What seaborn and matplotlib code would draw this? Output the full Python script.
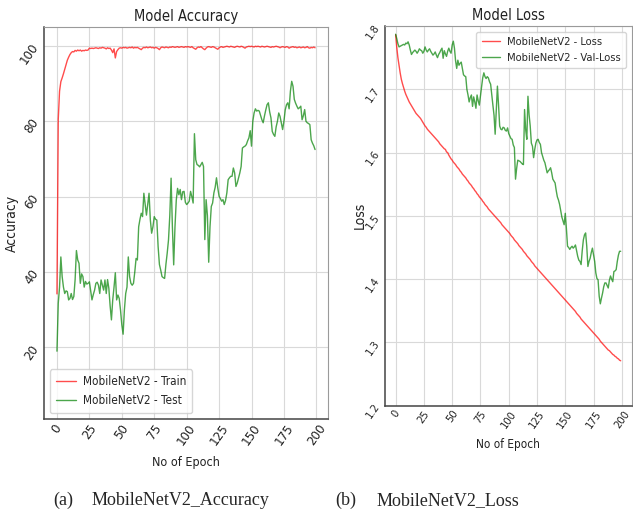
import matplotlib
matplotlib.use("Agg")
import matplotlib.pyplot as plt
import numpy as np
import pandas as pd
import seaborn as sns

# ---- training history of MobileNetV2 (200 epochs) ----
epochs = list(range(200))

train_acc = [
    34.2, 80.5, 88.0, 90.5, 91.5, 92.6, 93.8, 95.0, 96.2, 97.0,
    97.7, 98.2, 98.5, 98.4, 98.8, 98.6, 98.9, 98.7, 98.9, 98.6,
    98.8, 98.7, 98.9, 98.8, 98.9, 99.4, 99.3, 99.4, 99.3, 99.4,
    99.5, 99.4, 99.3, 99.5, 99.4, 99.6, 99.5, 99.4, 99.2, 99.5,
    99.3, 99.4, 98.9, 98.2, 99.2, 96.8, 98.5, 99.0, 99.4, 99.5,
    99.4, 99.6, 99.5, 99.6, 99.4, 99.5, 99.6, 99.5, 99.7, 99.4,
    99.6, 99.5, 99.6, 99.4, 99.2, 99.0, 99.4, 99.6, 99.5, 99.7,
    99.5, 99.6, 99.7, 99.5, 99.6, 99.4, 99.6, 99.5, 99.3, 99.0,
    99.5, 99.7, 99.6, 99.5, 99.7, 99.6, 99.5, 99.7, 99.6, 99.8,
    99.7, 99.6, 99.7, 99.8, 99.6, 99.7, 99.8, 99.7, 99.6, 99.8,
    99.7, 99.8, 99.7, 99.6, 99.8, 99.5, 99.3, 99.1, 99.5, 99.7,
    99.6, 99.8, 99.5, 99.2, 99.0, 99.4, 99.7, 99.8, 99.7, 99.6,
    99.8, 99.7, 99.5, 99.3, 99.1, 99.5, 99.7, 99.8, 99.6, 99.7,
    99.8, 99.9, 99.8, 99.7, 99.9, 99.8, 99.7, 99.6, 99.8, 99.9,
    99.8, 99.7, 99.9, 99.8, 99.6, 99.4, 99.7, 99.8, 99.9, 99.8,
    99.9, 99.8, 99.7, 99.9, 99.8, 99.9, 99.8, 99.7, 99.9, 99.8,
    99.7, 99.8, 99.9, 99.8, 99.7, 99.6, 99.8, 99.7, 99.8, 99.9,
    99.8, 99.7, 99.5, 99.7, 99.8, 99.7, 99.6, 99.8, 99.7, 99.4,
    99.6, 99.7, 99.8, 99.6, 99.7, 99.5, 99.6, 99.7, 99.5, 99.6,
    99.7, 99.5, 99.6, 99.8, 99.5, 99.4, 99.6, 99.5, 99.7, 99.5,
]

test_acc = [
    19.0, 31.7, 36.0, 44.0, 38.8, 36.0, 34.3, 35.0, 34.8, 32.6,
    33.0, 34.3, 32.7, 33.5, 38.0, 45.7, 43.2, 42.3, 37.0, 39.5,
    38.8, 36.0, 37.5, 36.8, 37.0, 37.4, 35.0, 32.6, 34.0, 35.2,
    37.0, 37.3, 36.5, 34.3, 37.9, 36.5, 35.2, 37.9, 34.3, 38.0,
    35.7, 31.0, 27.3, 32.6, 36.0, 39.8, 32.6, 33.9, 33.0, 29.9,
    26.0, 23.5, 30.0, 34.3, 36.0, 44.0, 38.8, 37.0, 36.5, 37.0,
    40.0, 43.6, 43.2, 52.0, 54.0, 55.6, 54.7, 60.9, 58.0, 55.1,
    58.0, 60.9, 53.8, 50.3, 52.0, 54.7, 54.0, 53.8, 46.7, 42.0,
    40.5, 38.8, 38.5, 38.3, 42.0, 45.0, 48.5, 55.0, 64.9, 52.0,
    41.9, 52.0, 59.1, 62.2, 60.5, 61.9, 59.2, 61.3, 61.4, 58.5,
    57.9, 58.3, 58.8, 61.4, 60.0, 58.3, 76.7, 69.8, 68.5, 68.3,
    67.9, 68.5, 69.1, 68.0, 48.6, 59.2, 55.0, 42.6, 52.0, 57.4,
    58.3, 61.0, 62.5, 65.0, 62.3, 60.1, 59.5, 58.8, 59.2, 57.9,
    59.0, 61.0, 64.5, 65.0, 65.4, 65.4, 67.6, 66.3, 62.7, 63.6,
    65.0, 66.3, 68.0, 72.9, 73.2, 73.4, 73.8, 74.8, 75.6, 77.5,
    73.4, 80.0, 82.2, 83.3, 82.7, 82.9, 82.7, 81.5, 80.4, 79.6,
    81.4, 83.0, 84.4, 84.9, 82.5, 80.9, 77.3, 76.5, 76.0, 78.5,
    80.0, 82.2, 81.3, 79.5, 77.8, 80.0, 83.0, 84.4, 84.9, 83.3,
    88.0, 90.6, 89.3, 85.8, 84.8, 84.0, 83.3, 83.6, 84.0, 80.4,
    81.5, 83.1, 80.0, 79.6, 79.4, 79.1, 75.1, 74.2, 73.5, 72.5,
]

train_loss = [
    1.786, 1.766, 1.750, 1.738, 1.726, 1.716, 1.709, 1.703, 1.697, 1.692,
    1.688, 1.684, 1.680, 1.677, 1.674, 1.671, 1.668, 1.665, 1.662, 1.660,
    1.658, 1.656, 1.654, 1.651, 1.648, 1.645, 1.642, 1.640, 1.637, 1.635,
    1.633, 1.631, 1.629, 1.627, 1.625, 1.623, 1.621, 1.619, 1.617, 1.614,
    1.612, 1.610, 1.608, 1.606, 1.605, 1.601, 1.600, 1.596, 1.593, 1.590,
    1.588, 1.585, 1.583, 1.581, 1.578, 1.576, 1.574, 1.571, 1.569, 1.566,
    1.564, 1.562, 1.560, 1.557, 1.555, 1.552, 1.550, 1.548, 1.545, 1.543,
    1.540, 1.538, 1.535, 1.533, 1.530, 1.528, 1.526, 1.523, 1.521, 1.518,
    1.516, 1.514, 1.511, 1.509, 1.507, 1.505, 1.503, 1.501, 1.499, 1.497,
    1.495, 1.493, 1.491, 1.489, 1.486, 1.484, 1.482, 1.480, 1.478, 1.476,
    1.474, 1.472, 1.469, 1.467, 1.465, 1.462, 1.460, 1.458, 1.456, 1.453,
    1.451, 1.449, 1.447, 1.444, 1.442, 1.440, 1.437, 1.435, 1.433, 1.431,
    1.428, 1.426, 1.424, 1.421, 1.419, 1.417, 1.415, 1.413, 1.411, 1.409,
    1.407, 1.405, 1.403, 1.401, 1.399, 1.397, 1.395, 1.393, 1.391, 1.389,
    1.387, 1.385, 1.383, 1.381, 1.379, 1.377, 1.375, 1.373, 1.371, 1.369,
    1.367, 1.365, 1.363, 1.361, 1.359, 1.357, 1.355, 1.353, 1.351, 1.349,
    1.346, 1.344, 1.342, 1.340, 1.337, 1.335, 1.333, 1.331, 1.329, 1.327,
    1.325, 1.323, 1.321, 1.319, 1.317, 1.315, 1.313, 1.311, 1.309, 1.307,
    1.305, 1.302, 1.300, 1.298, 1.296, 1.294, 1.292, 1.290, 1.288, 1.287,
    1.285, 1.283, 1.281, 1.280, 1.278, 1.277, 1.275, 1.274, 1.272, 1.271,
]

val_loss = [
    1.787, 1.780, 1.772, 1.767, 1.768, 1.769, 1.770, 1.771, 1.770, 1.773,
    1.772, 1.775, 1.770, 1.762, 1.755, 1.758, 1.760, 1.762, 1.760, 1.757,
    1.760, 1.764, 1.762, 1.761, 1.757, 1.760, 1.767, 1.762, 1.759, 1.762,
    1.764, 1.760, 1.757, 1.754, 1.756, 1.759, 1.754, 1.750, 1.755, 1.758,
    1.762, 1.765, 1.749, 1.761, 1.756, 1.752, 1.760, 1.765, 1.760, 1.757,
    1.770, 1.776, 1.765, 1.745, 1.733, 1.746, 1.738, 1.741, 1.743, 1.733,
    1.723, 1.721, 1.720, 1.700, 1.691, 1.680, 1.687, 1.691, 1.673, 1.688,
    1.680, 1.670, 1.691, 1.682, 1.675, 1.690, 1.704, 1.718, 1.726, 1.720,
    1.717, 1.720, 1.718, 1.712, 1.708, 1.691, 1.675, 1.659, 1.629, 1.668,
    1.705, 1.675, 1.642, 1.637, 1.636, 1.640, 1.639, 1.635, 1.634, 1.639,
    1.630, 1.626, 1.622, 1.621, 1.612, 1.608, 1.558, 1.575, 1.588, 1.587,
    1.586, 1.584, 1.582, 1.581, 1.668, 1.636, 1.621, 1.689, 1.660, 1.642,
    1.615, 1.610, 1.592, 1.605, 1.615, 1.620, 1.621, 1.616, 1.613, 1.600,
    1.594, 1.588, 1.584, 1.576, 1.568, 1.571, 1.573, 1.576, 1.568, 1.558,
    1.555, 1.552, 1.540, 1.530, 1.525, 1.518, 1.508, 1.498, 1.492, 1.486,
    1.504, 1.480, 1.452, 1.450, 1.447, 1.450, 1.452, 1.449, 1.451, 1.454,
    1.445, 1.436, 1.430, 1.428, 1.423, 1.445, 1.462, 1.470, 1.473, 1.452,
    1.420, 1.428, 1.433, 1.442, 1.449, 1.438, 1.428, 1.410, 1.401, 1.399,
    1.373, 1.361, 1.370, 1.378, 1.388, 1.394, 1.394, 1.390, 1.386, 1.398,
    1.405, 1.400, 1.396, 1.412, 1.413, 1.415, 1.428, 1.438, 1.444, 1.444,
]

acc_yticks = [20, 40, 60, 80, 100]
loss_yticks = [1.2, 1.3, 1.4, 1.5, 1.6, 1.7, 1.8]
epoch_ticks = [0, 25, 50, 75, 100, 125, 150, 175, 200]

acc_df = pd.DataFrame({"epoch": epochs, "train": train_acc, "test": test_acc})
loss_df = pd.DataFrame({"epoch": epochs, "loss": train_loss, "val": val_loss})

sns.set_style("whitegrid", {"grid.color": "#d9d9d9", "axes.edgecolor": "#555555"})
plt.rcParams["font.family"] = ["DejaVu Sans"]
plt.rcParams["font.stretch"] = "condensed"

fig = plt.figure(figsize=(6.33, 5.12), dpi=100)
ax1 = fig.add_axes([0.0695, 0.1816, 0.4487, 0.7656])
ax2 = fig.add_axes([0.6077, 0.2076, 0.3907, 0.7416])

RED, GREEN = "red", "green"

sns.lineplot(data=acc_df, x="epoch", y="train", ax=ax1, color=RED, alpha=0.7,
             linewidth=1, label="MobileNetV2 - Train")
sns.lineplot(data=acc_df, x="epoch", y="test", ax=ax1, color=GREEN, alpha=0.7,
             linewidth=1, label="MobileNetV2 - Test")
sns.lineplot(data=loss_df, x="epoch", y="loss", ax=ax2, color=RED, alpha=0.7,
             linewidth=1, label="MobileNetV2 - Loss")
sns.lineplot(data=loss_df, x="epoch", y="val", ax=ax2, color=GREEN, alpha=0.7,
             linewidth=1, label="MobileNetV2 - Val-Loss")

ax1.set_xlim(-10, 209)
ax1.set_ylim(1, 105)
ax1.set_yticks(acc_yticks)
ax2.set_xlim(-9.7, 209)
ax2.set_ylim(1.2, 1.8)
ax2.set_yticks(loss_yticks)

# the loss panel is drawn a little narrower, so its text is set smaller
panels = [
    (ax1, "Model Accuracy", "Accuracy", 10.5, 9.0, 9.5, 8.5),
    (ax2, "Model Loss", "Loss", 10.5, 8.5, 8.0, 8.0),
]
for ax, title, ylab, tsize, xlsize, ticksize, legsize in panels:
    ax.set_xticks(epoch_ticks)
    ax.set_title(title, fontsize=tsize, pad=4, color="#222222")
    ax.set_xlabel("No of Epoch", fontsize=xlsize, color="#222222", labelpad=6)
    ax.set_ylabel(ylab, fontsize=10, color="#222222")
    ax.tick_params(axis="both", labelsize=ticksize, colors="#222222", length=0, pad=2)
    for lab in ax.get_xticklabels() + ax.get_yticklabels():
        lab.set_rotation(55)
    for side in ("top", "right"):
        ax.spines[side].set_color("#9a9a9a")
    for side in ("left", "bottom"):
        ax.spines[side].set_color("#444444")
        ax.spines[side].set_linewidth(1.1)
    ax.legend(loc="lower left" if ax is ax1 else "upper right", fontsize=legsize,
              frameon=True, borderaxespad=0.5, handlelength=1.7, handletextpad=0.6,
              borderpad=0.5, labelspacing=0.5)

ax1.yaxis.set_label_coords(-0.088, 0.5)
ax2.yaxis.set_label_coords(-0.072, 0.5)

serif = ["Liberation Serif", "DejaVu Serif"]
W, H = 633.0, 512.0
fig.text(53 / W, 1 - 505 / H, "(a)", family=serif, fontsize=13, va="baseline", ha="left")
fig.text(92 / W, 1 - 505 / H, "MobileNetV2_Accuracy", family=serif, fontsize=13,
         va="baseline", ha="left")
fig.text(335 / W, 1 - 505 / H, "(b)", family=serif, fontsize=13, va="baseline", ha="left")
fig.text(377 / W, 1 - 505 / H, "MobileNetV2_Loss", family=serif, fontsize=13,
         va="baseline", ha="left")

fig.savefig("out.png", dpi=100)
